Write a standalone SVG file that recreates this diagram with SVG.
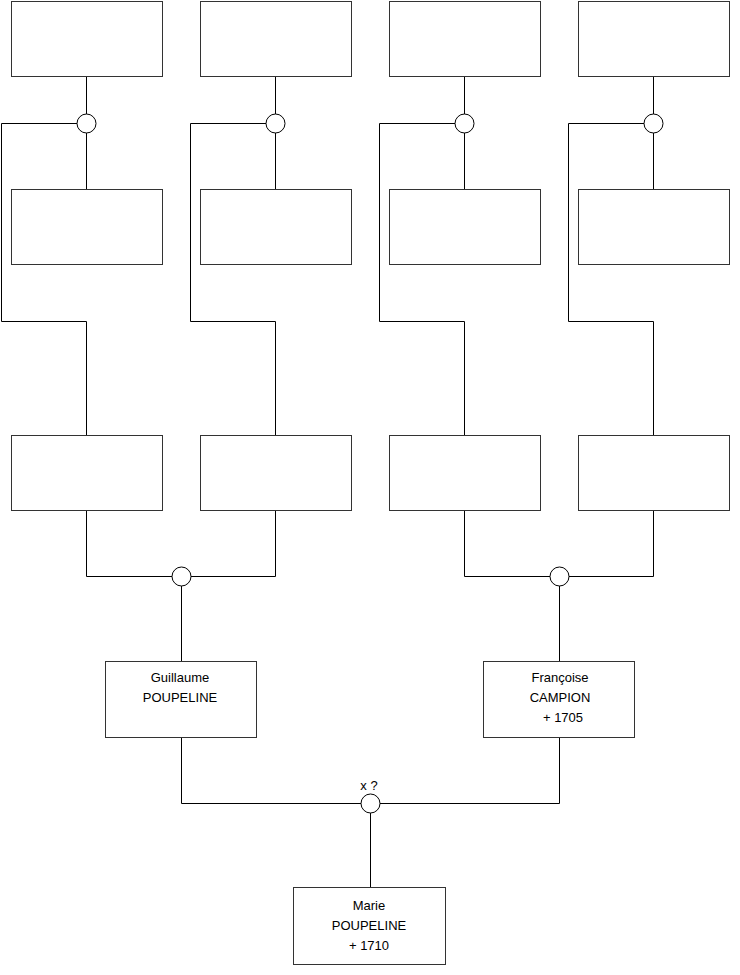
<svg xmlns="http://www.w3.org/2000/svg" width="740" height="975" viewBox="0 0 740 975">
<style>
.box{fill:#fff;stroke:#333;stroke-width:1}
.ln{fill:none;stroke:#000;stroke-width:1}
.ci{fill:#fff;stroke:#000;stroke-width:1}
text{font-family:"Liberation Sans",Arial,sans-serif;font-size:13px;fill:#000;text-anchor:middle}
</style>
<rect width="740" height="975" fill="#fff"/>
<g id="connectors">
<path class="ln" d="M86.5 76.5V189.5M86.5 123.5H1.5V321.5H86.5V435.5"/>
<path class="ln" d="M275.5 76.5V189.5M275.5 123.5H190.5V321.5H275.5V435.5"/>
<path class="ln" d="M464.5 76.5V189.5M464.5 123.5H379.5V321.5H464.5V435.5"/>
<path class="ln" d="M653.5 76.5V189.5M653.5 123.5H568.5V321.5H653.5V435.5"/>
<path class="ln" d="M86.5 510.5V576.5H275.5V510.5M181.5 576.5V661.5"/>
<path class="ln" d="M464.5 510.5V576.5H653.5V510.5M559.5 576.5V661.5"/>
<path class="ln" d="M181.5 737.5V803.5H559.5V737.5M370.5 803.5V887.5"/>
</g>
<g id="j1"><circle class="ci" cx="86.5" cy="123.5" r="9.5"/></g>
<g id="j2"><circle class="ci" cx="275.5" cy="123.5" r="9.5"/></g>
<g id="j3"><circle class="ci" cx="464.5" cy="123.5" r="9.5"/></g>
<g id="j4"><circle class="ci" cx="653.5" cy="123.5" r="9.5"/></g>
<g id="j5"><circle class="ci" cx="181.5" cy="576.5" r="9.5"/></g>
<g id="j6"><circle class="ci" cx="559.5" cy="576.5" r="9.5"/></g>
<g id="j7"><circle class="ci" cx="370.5" cy="803.5" r="9.5"/><text x="369" y="790">x ?</text></g>
<g id="b1"><rect class="box" x="11.5" y="1.5" width="151" height="75"/></g>
<g id="b2"><rect class="box" x="200.5" y="1.5" width="151" height="75"/></g>
<g id="b3"><rect class="box" x="389.5" y="1.5" width="151" height="75"/></g>
<g id="b4"><rect class="box" x="578.5" y="1.5" width="151" height="75"/></g>
<g id="b5"><rect class="box" x="11.5" y="189.5" width="151" height="75"/></g>
<g id="b6"><rect class="box" x="200.5" y="189.5" width="151" height="75"/></g>
<g id="b7"><rect class="box" x="389.5" y="189.5" width="151" height="75"/></g>
<g id="b8"><rect class="box" x="578.5" y="189.5" width="151" height="75"/></g>
<g id="b9"><rect class="box" x="11.5" y="435.5" width="151" height="75"/></g>
<g id="b10"><rect class="box" x="200.5" y="435.5" width="151" height="75"/></g>
<g id="b11"><rect class="box" x="389.5" y="435.5" width="151" height="75"/></g>
<g id="b12"><rect class="box" x="578.5" y="435.5" width="151" height="75"/></g>
<g id="guillaume"><rect class="box" x="105.5" y="661.5" width="151" height="76"/><text x="180" y="682">Guillaume</text><text x="180" y="702">POUPELINE</text></g>
<g id="francoise"><rect class="box" x="483.5" y="661.5" width="151" height="76"/><text x="560" y="682">Françoise</text><text x="560" y="702">CAMPION</text><text x="563" y="722">+ 1705</text></g>
<g id="marie"><rect class="box" x="293.5" y="887.5" width="152" height="77"/><text x="369" y="910">Marie</text><text x="369" y="930">POUPELINE</text><text x="369" y="950">+ 1710</text></g>
</svg>
